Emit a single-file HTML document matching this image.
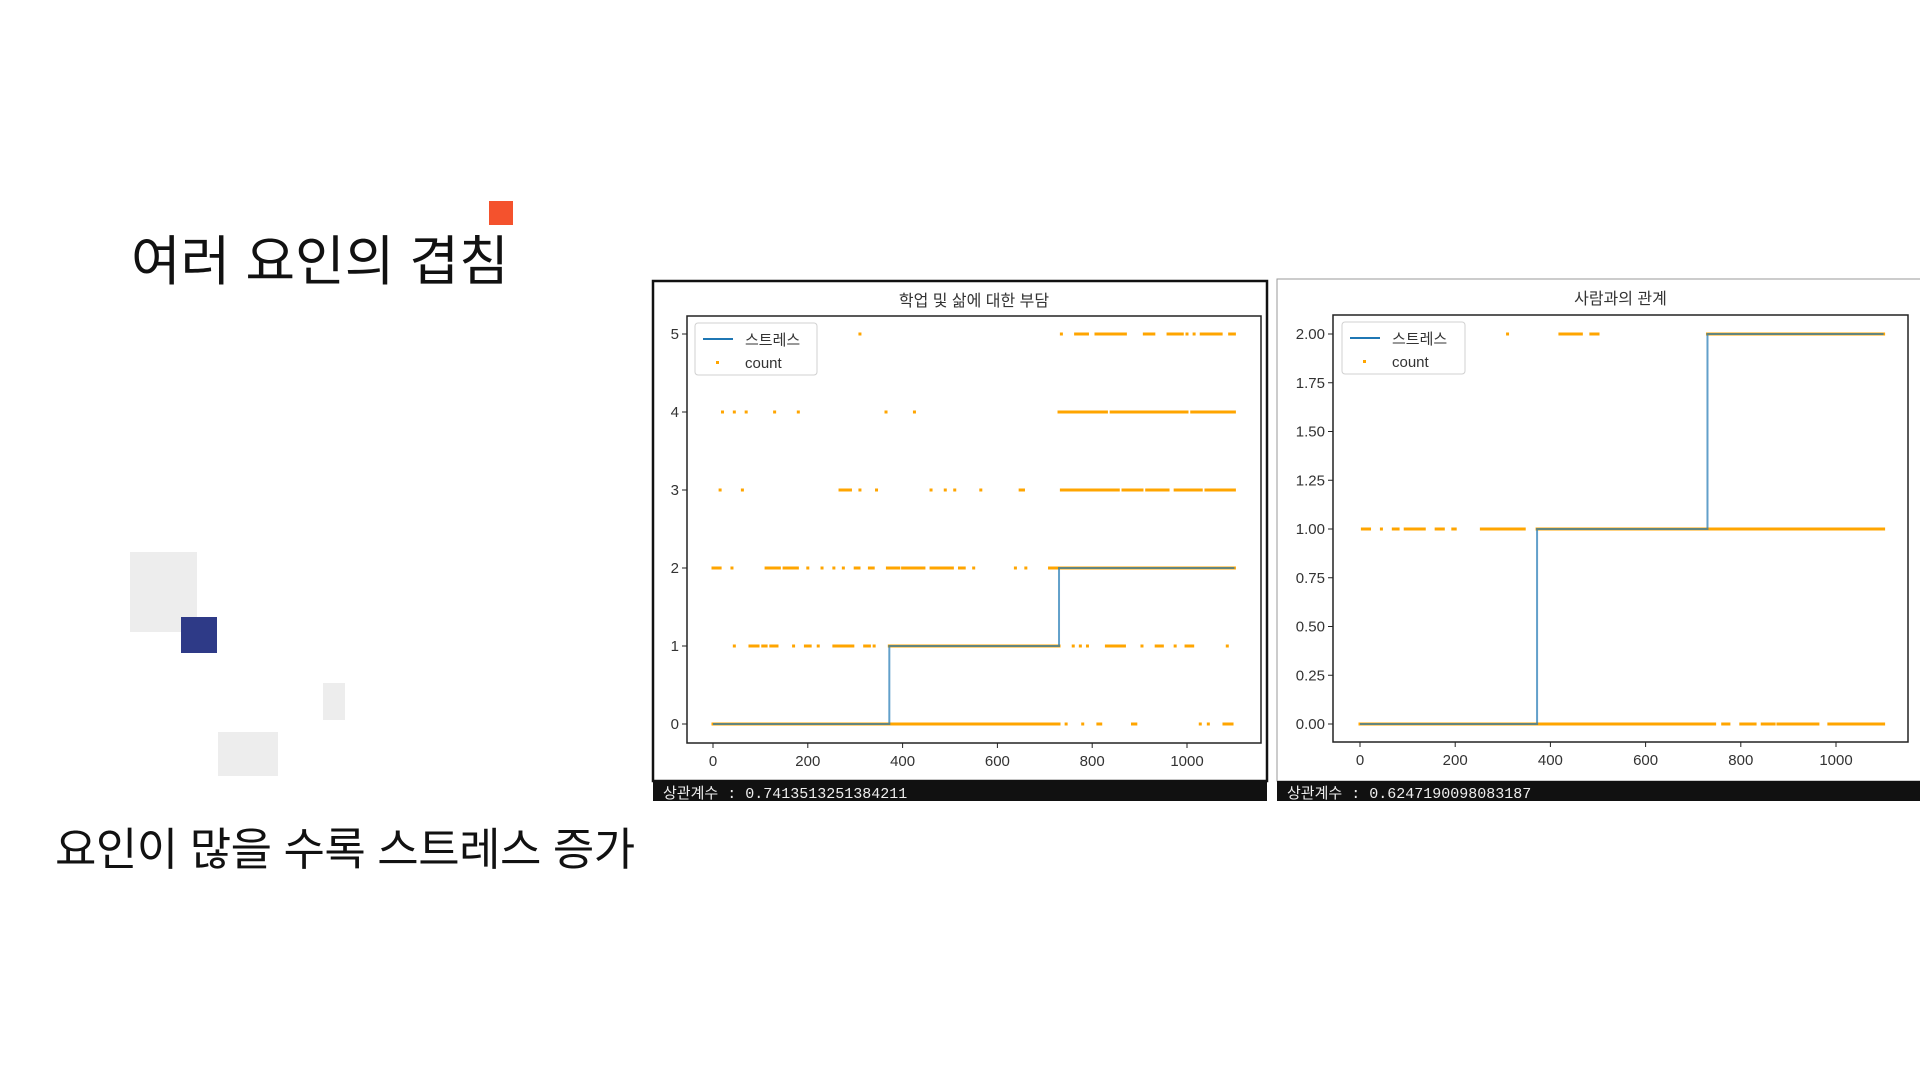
<!DOCTYPE html>
<html><head><meta charset="utf-8">
<style>
body{margin:0;width:1920px;height:1080px;background:#fff;overflow:hidden;font-family:"Liberation Sans","Noto Sans CJK KR",sans-serif;}
svg{display:block}
</style></head>
<body>
<svg id="root" width="1920" height="1080" xmlns="http://www.w3.org/2000/svg">
<text x="131" y="280" font-size="54" font-family="Liberation Sans, Noto Sans CJK KR, sans-serif" fill="#111">여러 요인의 겹침</text>
<rect x="489" y="201" width="24" height="24" fill="#f4522d"/>
<rect x="130" y="552" width="67" height="80" fill="#ededed"/>
<rect x="181" y="617" width="36" height="36" fill="#2e3a87"/>
<rect x="323" y="683" width="22" height="37" fill="#ededed"/>
<rect x="218" y="732" width="60" height="44" fill="#ededed"/>
<text x="55" y="865" font-size="45" letter-spacing="-0.5" font-family="Liberation Sans, Noto Sans CJK KR, sans-serif" fill="#111">요인이 많을 수록 스트레스 증가</text>
<g id="c1"></g>
<g id="c2"></g>
</svg>
<script>
// Chart 1 data: 학업 및 삶에 대한 부담
const c1Title = "학업 및 삶에 대한 부담";
const c1Corr = "상관계수 : 0.7413513251384211";
const c1YTicks = [0,1,2,3,4,5];
const c1YLabels = ["0","1","2","3","4","5"];
const c1XTicks = [0,200,400,600,800,1000];
const c1StepX = [0,372,372,730,730,1100];
const c1StepY = [0,0,1,1,2,2];
const c1Level0 = [[0,372],[372,730],[745,745],[780,780],[812,818],[885,892],[1028,1028],[1045,1045],[1078,1095]];
const c1Level1 = [[45,45],[78,95],[105,112],[122,135],[170,170],[195,205],[222,222],[255,275],[280,295],[320,330],[340,340],[372,730],[760,760],[775,775],[790,790],[830,868],[905,905],[935,948],[975,975],[998,1012],[1085,1085]];
const c1Level2 = [[0,15],[40,40],[112,140],[150,178],[200,200],[230,230],[255,255],[275,275],[300,308],[330,338],[368,392],[400,445],[460,505],[520,530],[550,550],[638,638],[660,660],[710,1100]];
const c1Level3 = [[15,15],[62,62],[268,290],[310,310],[345,345],[460,460],[490,490],[510,510],[565,565],[648,655],[735,765],[770,855],[865,905],[915,960],[975,1030],[1040,1100]];
const c1Level4 = [[20,20],[45,45],[70,70],[130,130],[180,180],[365,365],[425,425],[730,830],[840,1000],[1010,1100]];
const c1Level5 = [[310,310],[735,735],[765,790],[808,870],[910,930],[960,990],[1000,1000],[1015,1015],[1030,1072],[1090,1100]];
// Chart 2 data: 사람과의 관계
const c2Title = "사람과의 관계";
const c2Corr = "상관계수 : 0.6247190098083187";
const c2YTicks = [0,0.25,0.5,0.75,1,1.25,1.5,1.75,2];
const c2YLabels = ["0.00","0.25","0.50","0.75","1.00","1.25","1.50","1.75","2.00"];
const c2XTicks = [0,200,400,600,800,1000];
const c2StepX = [0,372,372,730,730,1100];
const c2StepY = [0,0,1,1,2,2];
const c2Level0 = [[0,372],[372,745],[762,775],[800,830],[845,870],[878,962],[985,1100]];
const c2Level1 = [[5,20],[45,45],[70,80],[95,135],[160,175],[195,200],[255,345],[372,730],[730,1100]];
const c2Level2 = [[310,310],[420,465],[485,500],[730,1100]];

const NS="http://www.w3.org/2000/svg";
function mk(parent,tag,attrs){const e=document.createElementNS(NS,tag);for(const k in attrs)e.setAttribute(k,attrs[k]);parent.appendChild(e);return e;}

function drawChart(g,cfg){
  const {panel,plot,x0px,x1000px,ymin,ymax,yminPx,ymaxPx}=cfg;
  const sx=v=>x0px+v*(x1000px-x0px)/1000;
  const sy=v=>yminPx+(v-ymin)*(ymaxPx-yminPx)/(ymax-ymin);
  const bg=mk(g,'rect',{x:panel.x,y:panel.y,width:panel.w,height:panel.h,fill:'#fff',stroke:cfg.panelStroke,'stroke-width':cfg.panelSW});
  
  
  const t=mk(g,'text',{x:(plot.x+plot.x+plot.w)/2,y:panel.y+25,'text-anchor':'middle','font-size':16,fill:'#333','font-family':'Liberation Sans, Noto Sans CJK KR, sans-serif'});
  t.textContent=cfg.title;
  
  
  const fr=mk(g,'rect',{x:plot.x,y:plot.y,width:plot.w,height:plot.h,fill:'none',stroke:'#222','stroke-width':1.5});
  
  
  cfg.yTicks.forEach((v,i)=>{
    const y=sy(v);
    mk(g,'line',{x1:plot.x-5,x2:plot.x,y1:y,y2:y,stroke:'#222'});
    const tl=mk(g,'text',{x:plot.x-8,y:y+5,'text-anchor':'end','font-size':15,fill:'#333'});
    tl.textContent=cfg.yLabels[i];
    
    
  });
  cfg.xTicks.forEach(v=>{
    const x=sx(v);
    mk(g,'line',{x1:x,x2:x,y1:plot.y+plot.h,y2:plot.y+plot.h+5,stroke:'#222'});
    const tl=mk(g,'text',{x:x,y:plot.y+plot.h+23,'text-anchor':'middle','font-size':15,fill:'#333'});
    tl.textContent=String(v);
    
    
  });
  cfg.levels.forEach(([lv,segs])=>{
    const dg=mk(g,'g',{fill:'#ffa500'});
    
    
    const y=sy(lv);
    segs.forEach(([a,b])=>{
      if(b-a<2){mk(dg,'rect',{x:sx(a)-1.5,y:y-1.5,width:3,height:3});}
      else{mk(dg,'rect',{x:sx(a)-1.5,y:y-1.5,width:sx(b)-sx(a)+3,height:3});}
    });
  });
  let d='';cfg.stepX.forEach((v,i)=>{d+=(i?'L':'M')+sx(v)+','+sy(cfg.stepY[i]);});
  const ln=mk(g,'path',{d:d,fill:'none',stroke:'#1f77b4','stroke-width':2,'stroke-opacity':0.7});
  
  
  const L=cfg.legend;
  const lb=mk(g,'rect',{x:L.x,y:L.y,width:L.w,height:L.h,fill:'#fff',stroke:'#ccc',rx:3,opacity:0.9});
  
  
  mk(g,'line',{x1:L.x+8,x2:L.x+38,y1:L.y+16,y2:L.y+16,stroke:'#1f77b4','stroke-width':2});
  const l1=mk(g,'text',{x:L.x+50,y:L.y+22,'font-size':15,fill:'#333','font-family':'Liberation Sans, Noto Sans CJK KR, sans-serif'});
  l1.textContent='스트레스';
  
  
  mk(g,'rect',{x:L.x+21,y:L.y+38,width:3,height:3,fill:'#ffa500'});
  const l2=mk(g,'text',{x:L.x+50,y:L.y+45,'font-size':15,fill:'#333'});
  l2.textContent='count';
  
  
  const cb=mk(g,'rect',{x:cfg.bar.x,y:cfg.bar.y,width:cfg.bar.w,height:cfg.bar.h,fill:'#111'});
  
  
  const ct=mk(g,'text',{x:cfg.bar.x+10,y:cfg.bar.y+17,'font-size':15,fill:'#eee','font-family':'Liberation Mono, Noto Sans CJK KR, monospace'});
  ct.textContent=cfg.corr;
  
  
}
drawChart(document.getElementById('c1'),{
  panel:{x:653,y:281,w:614,h:500},panelStroke:'#111',panelSW:2.5,
  plot:{x:687,y:316,w:574,h:427},
  x0px:713,x1000px:1187,ymin:0,ymax:5,yminPx:724,ymaxPx:334,
  title:c1Title,corr:c1Corr,yTicks:c1YTicks,yLabels:c1YLabels,xTicks:c1XTicks,
  stepX:c1StepX,stepY:c1StepY,
  levels:[[0,c1Level0],[1,c1Level1],[2,c1Level2],[3,c1Level3],[4,c1Level4],[5,c1Level5]],
  legend:{x:695,y:323,w:122,h:52},
  bar:{x:653,y:781,w:614,h:20}
});
drawChart(document.getElementById('c2'),{
  panel:{x:1277,y:279,w:650,h:502},panelStroke:'#999',panelSW:1,
  plot:{x:1333,y:315,w:575,h:427},
  x0px:1360,x1000px:1836,ymin:0,ymax:2,yminPx:724,ymaxPx:334,
  title:c2Title,corr:c2Corr,yTicks:c2YTicks,yLabels:c2YLabels,xTicks:c2XTicks,
  stepX:c2StepX,stepY:c2StepY,
  levels:[[0,c2Level0],[1,c2Level1],[2,c2Level2]],
  legend:{x:1342,y:322,w:123,h:52},
  bar:{x:1277,y:781,w:643,h:20}
});
</script>
</body></html>
